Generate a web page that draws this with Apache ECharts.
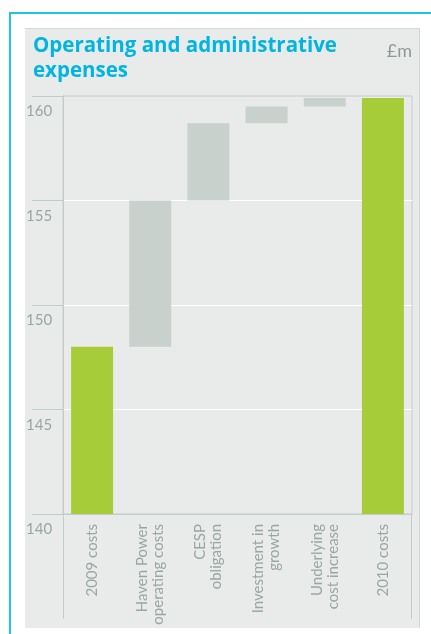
<!DOCTYPE html>
<html>
<head>
<meta charset="utf-8">
<script src="https://cdn.jsdelivr.net/npm/echarts@6/dist/echarts.min.js"></script>
<style>
  html, body { margin: 0; padding: 0; background: #fff; }
  .frame {
    position: absolute; left: 9px; top: 12px; right: 0; bottom: 0;
    border-left: 2px solid #1ec3e8; border-top: 2px solid #1ec3e8;
  }
  .panel {
    position: absolute; left: 25px; top: 28px; width: 395px; height: 600px;
    background: #e9ebea; border-top: 1px solid #d3d9d6; border-right: 1px solid #d3d9d6;
    box-sizing: border-box;
  }
  #chart { position: absolute; left: 0; top: 0; width: 431px; height: 634px; }
</style>
</head>
<body>
<div class="frame"></div>
<div class="panel"></div>
<div id="chart"></div>
<script>
// £m
const categories = [
  '2009 costs',
  'Haven Power\noperating costs',
  'CESP\nobligation',
  'Investment in\ngrowth',
  'Underlying\ncost increase',
  '2010 costs'
]
const startTotal = 148.0
const steps = [7.0, 3.7, 0.8, 0.4]
const endTotal = 159.9
const yTicks = [140, 145, 150, 155, 160]

const GREEN = '#a6cd39'
const STEP_GREY = '#c9d1cd'
const AXIS_GREY = '#c3ccc8'
const TEXT_GREY = '#9ba6a1'
const FONT = 'Lato, "Open Sans", sans-serif'

const grid = { left: 63, right: 19, top: 96, bottom: 120 }

// waterfall: invisible base + visible amount
const baseData = [0]
const amountData = [startTotal]
let running = startTotal
steps.forEach((s) => {
  baseData.push(+running.toFixed(1))
  amountData.push(s)
  running += s
})
baseData.push(0)
amountData.push(endTotal)

const chart = echarts.init(document.getElementById('chart'))

const W = 431
const H = 634
const plotBottom = H - grid.bottom
const plotRight = W - grid.right

chart.setOption({
  animation: false,
  title: [
    {
      text: 'Operating and administrative\nexpenses',
      left: 33,
      top: 34,
      padding: 0,
      textStyle: { fontFamily: '"Open Sans", sans-serif', fontSize: 20.5, fontWeight: 'bold', color: '#00b5e2', lineHeight: 25 }
    },
    {
      text: '£m',
      right: 19,
      top: 42,
      padding: 0,
      textStyle: { fontFamily: FONT, fontSize: 18, fontWeight: 'normal', color: '#8e9a94' }
    }
  ],
  grid: {
    ...grid,
    show: true,
    borderColor: AXIS_GREY,
    borderWidth: 1,
    backgroundColor: 'transparent'
  },
  xAxis: {
    type: 'category',
    data: categories,
    axisLine: { lineStyle: { color: AXIS_GREY } },
    axisTick: { show: false },
    axisLabel: {
      rotate: 90,
      margin: 10,
      interval: 0,
      fontFamily: FONT,
      fontSize: 15,
      lineHeight: 16,
      color: TEXT_GREY
    }
  },
  yAxis: {
    type: 'value',
    min: yTicks[0],
    max: yTicks[yTicks.length - 1],
    interval: yTicks[1] - yTicks[0],
    axisLine: { show: true, lineStyle: { color: AXIS_GREY } },
    axisTick: { show: true, length: 31, lineStyle: { color: AXIS_GREY } },
    splitLine: { lineStyle: { color: '#ffffff' }, showMinLine: false, showMaxLine: false },
    axisLabel: {
      align: 'left',
      verticalAlign: 'top',
      margin: 37,
      padding: [8, 0, 0, 0],
      fontFamily: FONT,
      fontSize: 15,
      color: TEXT_GREY
    }
  },
  graphic: [
    {
      type: 'line',
      shape: { x1: grid.left + 0.5, y1: plotBottom, x2: grid.left + 0.5, y2: 619 },
      style: { stroke: AXIS_GREY, lineWidth: 1 }
    },
    {
      type: 'line',
      shape: { x1: plotRight - 0.5, y1: plotBottom, x2: plotRight - 0.5, y2: 619 },
      style: { stroke: AXIS_GREY, lineWidth: 1 }
    }
  ],
  series: [
    {
      name: 'base',
      type: 'bar',
      stack: 'w',
      barWidth: 42,
      itemStyle: { color: 'transparent' },
      silent: true,
      data: baseData
    },
    {
      name: 'amount',
      type: 'bar',
      stack: 'w',
      barWidth: 42,
      itemStyle: {
        color: (p) => (p.dataIndex === 0 || p.dataIndex === categories.length - 1 ? GREEN : STEP_GREY)
      },
      data: amountData
    }
  ]
})
</script>
</body>
</html>
